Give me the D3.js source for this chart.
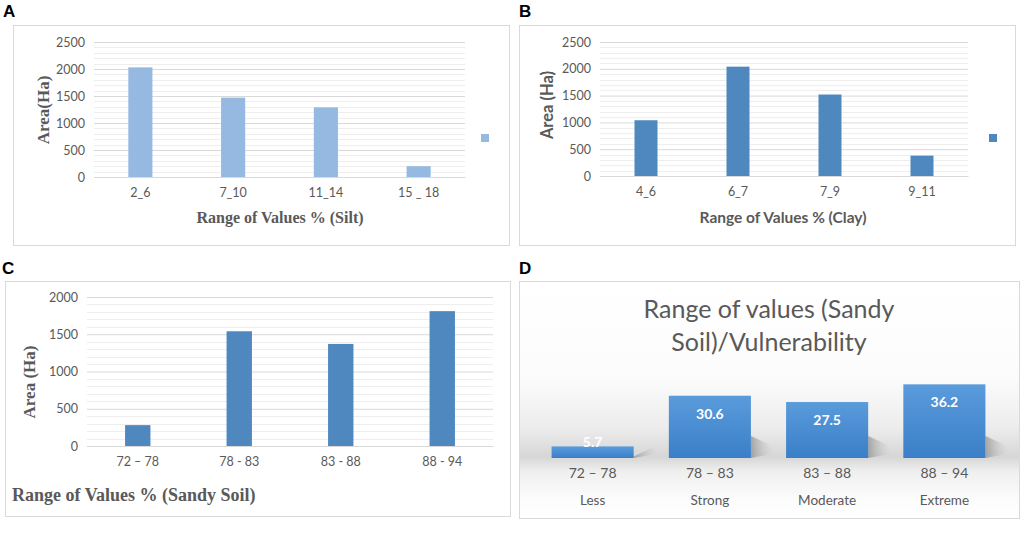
<!DOCTYPE html>
<html><head><meta charset="utf-8">
<script src="https://cdn.jsdelivr.net/npm/d3@7"></script>
<style>body{margin:0;background:#fff}svg{display:block}</style>
</head><body>
<svg id="c" width="1024" height="540"></svg>
<script>
// ---- data ----
const siltCategories = ["2_6", "7_10", "11_14", "15 _ 18"];
const siltValues = [2030, 1470, 1290, 200];
const clayCategories = ["4_6", "6_7", "7_9", "9_11"];
const clayValues = [1040, 2040, 1520, 380];
const sandCategories = ["72 – 78", "78 - 83", "83 - 88", "88 - 94"];
const sandValues = [280, 1540, 1370, 1810];
const vulnRanges = ["72 – 78", "78 – 83", "83 – 88", "88 – 94"];
const vulnClasses = ["Less", "Strong", "Moderate", "Extreme"];
const vulnPercent = [5.7, 30.6, 27.5, 36.2];
const ticksAB = [0, 500, 1000, 1500, 2000, 2500];
const ticksC = [0, 500, 1000, 1500, 2000];

const svg = d3.select("#c");
const grey = "#595959";
const sans = "Lato, 'Open Sans', sans-serif";
const serif = "'Liberation Serif', 'DejaVu Serif', serif";

function panelLetter(t, x, y) {
  svg.append("text").attr("x", x).attr("y", y).text(t)
    .attr("font-family", "'Liberation Sans', Arial, sans-serif")
    .attr("font-weight", "bold").attr("font-size", 17).attr("fill", "#000");
}
function frame(x, y, w, h) {
  svg.append("rect").attr("x", x + 0.5).attr("y", y + 0.5).attr("width", w).attr("height", h)
    .attr("fill", "#fff").attr("stroke", "#d9d9d9").attr("stroke-width", 1);
}

function barPanel(o) {
  const g = svg.append("g");
  const x = d3.scaleBand().domain(o.cats).range([o.x0, o.x1]).padding(0);
  const y = d3.scaleLinear().domain([0, o.max]).range([o.yZero, o.yTop]);
  // minor gridlines
  g.append("g").selectAll("line").data(d3.range(100, o.max + 1, 100).filter(v => v % 500 !== 0))
    .join("line").attr("x1", o.x0).attr("x2", o.x1)
    .attr("y1", d => Math.round(y(d)) + 0.5).attr("y2", d => Math.round(y(d)) + 0.5)
    .attr("stroke", "#eeeeee");
  // major gridlines + tick labels via axis
  const ax = d3.axisLeft(y).tickValues(o.ticks).tickFormat(d3.format("d"))
    .tickSize(-(o.x1 - o.x0)).tickPadding(9);
  const ag = g.append("g").attr("transform", `translate(${o.x0},0)`).call(ax);
  ag.select(".domain").remove();
  ag.selectAll(".tick line").attr("stroke", "#d9d9d9");
  ag.selectAll(".tick text").attr("font-family", sans).attr("font-size", 12.5).attr("fill", grey);
  // bars
  const bw = x.step() * o.bw;
  g.append("g").selectAll("rect").data(o.vals).join("rect")
    .attr("x", (d, i) => x(o.cats[i]) + (x.step() - bw) / 2)
    .attr("width", bw)
    .attr("y", d => y(d)).attr("height", d => y(0) - y(d))
    .attr("fill", o.color);
  // x axis labels
  const xa = d3.axisBottom(x).tickSize(0).tickPadding(11);
  const xg = g.append("g").attr("transform", `translate(0,${o.yZero})`).call(xa);
  xg.select(".domain").attr("stroke", "#d9d9d9");
  xg.selectAll(".tick text").attr("font-family", sans).attr("font-size", 12.5).attr("fill", grey);
  // x title
  g.append("text").attr("x", o.xtx).attr("y", o.xty).text(o.xtitle)
    .attr("text-anchor", o.xanchor || "middle").attr("font-family", o.xfont)
    .attr("font-weight", "bold").attr("font-size", o.xsize).attr("fill", grey);
  // y title
  g.append("text").attr("transform", `translate(${o.ytx},${o.yty}) rotate(-90)`).text(o.ytitle)
    .attr("text-anchor", "middle").attr("font-family", o.yfont)
    .attr("font-weight", "bold").attr("font-size", o.ysize).attr("fill", grey);
  if (o.legend) {
    g.append("rect").attr("x", o.legend[0]).attr("y", o.legend[1]).attr("width", 8).attr("height", 8)
      .attr("fill", o.color);
  }
}

// Panel A
panelLetter("A", 3, 17);
frame(13, 25, 496, 220);
barPanel({cats: siltCategories, vals: siltValues, max: 2500, ticks: ticksAB,
  x0: 94, x1: 465, yZero: 177, yTop: 42, bw: 0.26, color: "#95b9e1",
  xtitle: "Range of Values % (Silt)", xtx: 280, xty: 223, xfont: serif, xsize: 16,
  ytitle: "Area(Ha)", ytx: 49, yty: 110, yfont: serif, ysize: 17, legend: [481, 134]});

// Panel B
panelLetter("B", 519, 17);
frame(519, 25, 496, 220);
barPanel({cats: clayCategories, vals: clayValues, max: 2500, ticks: ticksAB,
  x0: 600, x1: 968, yZero: 176, yTop: 42, bw: 0.25, color: "#4f87bf",
  xtitle: "Range of Values % (Clay)", xtx: 783, xty: 223, xfont: sans, xsize: 15.5,
  ytitle: "Area (Ha)", ytx: 553, yty: 105, yfont: sans, ysize: 16.5, legend: [989, 134]});

// Panel C
panelLetter("C", 2, 274);
frame(5, 281, 505, 235);
barPanel({cats: sandCategories, vals: sandValues, max: 2000, ticks: ticksC,
  x0: 87, x1: 493, yZero: 446, yTop: 297, bw: 0.25, color: "#4f87bf",
  xtitle: "Range of Values % (Sandy Soil)", xtx: 12, xty: 501, xanchor: "start", xfont: serif, xsize: 18,
  ytitle: "Area (Ha)", ytx: 35, yty: 382, yfont: serif, ysize: 17});

// Panel D
panelLetter("D", 519, 274);
const defs = svg.append("defs");
const bg = defs.append("linearGradient").attr("id", "dbg").attr("x1", 0).attr("x2", 0).attr("y1", 0).attr("y2", 1);
[[0, "#ffffff"], [0.4, "#fcfcfc"], [0.62, "#ececec"], [0.74, "#d6d6d6"], [0.8, "#efefef"], [0.92, "#fcfcfc"], [1, "#ffffff"]]
  .forEach(s => bg.append("stop").attr("offset", s[0]).attr("stop-color", s[1]));
const barG = defs.append("linearGradient").attr("id", "dbar").attr("x1", 0).attr("x2", 0).attr("y1", 0).attr("y2", 1);
[[0, "#5a9bdb"], [1, "#3a7fc8"]].forEach(s => barG.append("stop").attr("offset", s[0]).attr("stop-color", s[1]));
const shG = defs.append("linearGradient").attr("id", "dsh").attr("x1", 0).attr("x2", 1).attr("y1", 0).attr("y2", 0);
[[0, "#8a8a8a", 0.7], [1, "#bdbdbd", 0]].forEach(s => shG.append("stop").attr("offset", s[0]).attr("stop-color", s[1]).attr("stop-opacity", s[2]));

svg.append("rect").attr("x", 519.5).attr("y", 281.5).attr("width", 500).attr("height", 237)
  .attr("fill", "url(#dbg)").attr("stroke", "#d9d9d9");
const dTitle = svg.append("text").attr("text-anchor", "middle").attr("font-family", sans)
  .attr("font-size", 25).attr("fill", grey);
dTitle.append("tspan").attr("x", 769).attr("y", 318).text("Range of values (Sandy");
dTitle.append("tspan").attr("x", 769).attr("y", 351).text("Soil)/Vulnerability");

const xd = d3.scaleBand().domain(vulnRanges).range([534, 1003]).paddingInner(0.3).paddingOuter(0.15);
const yd = d3.scaleLinear().domain([0, 40]).range([458, 376.6]);
const dg = svg.append("g");
// shadows
dg.selectAll("path.sh").data(vulnPercent).join("path").attr("class", "sh")
  .attr("d", (d, i) => {
    const r = xd(vulnRanges[i]) + xd.bandwidth();
    const b = yd(0);
    const t = Math.max(yd(d) + 10, b - 22);
    return `M${r},${t} L${r + 22},${b - 12} L${r + 22},${b - 4} L${r},${b} Z`;
  }).attr("fill", "url(#dsh)");
dg.selectAll("rect").data(vulnPercent).join("rect")
  .attr("x", (d, i) => xd(vulnRanges[i])).attr("width", xd.bandwidth())
  .attr("y", d => yd(d)).attr("height", d => yd(0) - yd(d)).attr("fill", "url(#dbar)");
dg.selectAll("text.v").data(vulnPercent).join("text").attr("class", "v")
  .attr("x", (d, i) => xd(vulnRanges[i]) + xd.bandwidth() / 2)
  .attr("y", d => (yd(0) - yd(d) > 25 ? yd(d) + 23 : yd(d) + 1))
  .attr("text-anchor", "middle").attr("font-family", sans).attr("font-weight", "bold")
  .attr("font-size", 14).attr("fill", "#ffffff").text(d => d.toFixed(1));
const xda = d3.axisBottom(xd).tickSize(0).tickPadding(10);
const xdg = dg.append("g").attr("transform", `translate(0,${yd(0)})`).call(xda);
xdg.select(".domain").remove();
xdg.selectAll(".tick text").attr("font-family", sans).attr("font-size", 14).attr("fill", grey);
dg.selectAll("text.cl").data(vulnClasses).join("text").attr("class", "cl")
  .attr("x", (d, i) => xd(vulnRanges[i]) + xd.bandwidth() / 2).attr("y", 505)
  .attr("text-anchor", "middle").attr("font-family", sans).attr("font-size", 13.5)
  .attr("fill", grey).text(d => d);
</script>
</body></html>
